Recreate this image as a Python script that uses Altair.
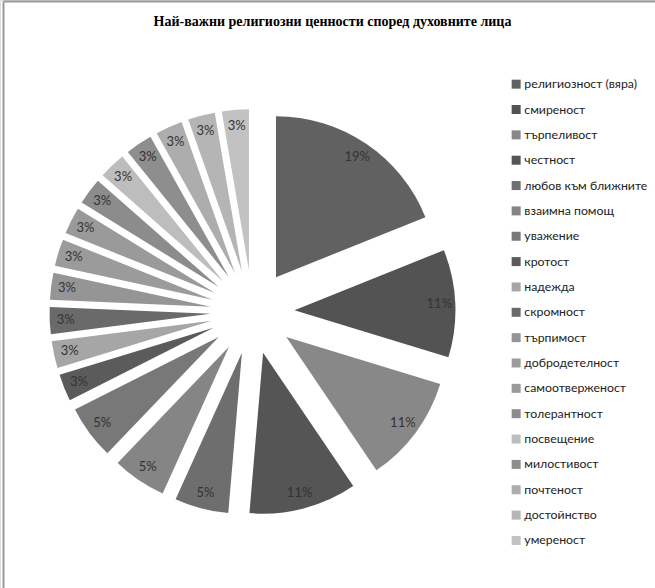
import math
import altair as alt
import pandas as pd

# ---- data -------------------------------------------------------------
names = [
    "религиозност (вяра)", "смиреност", "търпеливост", "честност",
    "любов към ближните", "\u00a0взаимна помощ", "уважение", "кротост",
    "надежда", "скромност", "търпимост", "добродетелност",
    "самоотверженост", "толерантност", "посвещение", "милостивост",
    "почтеност", "достойнство", "умереност",
]
counts = [7, 4, 4, 4, 2, 2, 2, 1, 1, 1, 1, 1, 1, 1, 1, 1, 1, 1, 1]
colors = [
    "#616161", "#535353", "#888888", "#555555", "#6e6e6e", "#858585",
    "#787878", "#5b5b5b", "#a6a6a6", "#6a6a6a", "#959595", "#9b9b9b",
    "#9a9a9a", "#8c8c8c", "#bdbdbd", "#8e8e8e", "#adadad", "#b5b5b5",
    "#c2c2c2",
]
title_text = "Най-важни религиозни ценности според духовните лица"

# ---- layout constants ---------------------------------------------------
W, H = 655, 588
CX, CY = 252.5, 312.0      # pie centre in pixels
R = 161                    # outer radius
EXPLODE = 42               # explosion distance
LABEL_R = EXPLODE + 145    # distance of percentage labels from centre

total = sum(counts)
rows = []
cum = 0
for n, c in zip(names, counts):
    start, end = cum, cum + c
    cum = end
    mid = (start + end) / 2 / total * 2 * math.pi
    rows.append({
        "name": n,
        "count": c,
        "start": start,
        "end": end,
        "share": c / total,
        "ox": EXPLODE * math.sin(mid),
        "oy": EXPLODE * math.cos(mid),
        "lx": LABEL_R * math.sin(mid),
        "ly": LABEL_R * math.cos(mid),
    })
df = pd.DataFrame(rows)

xs = alt.Scale(domain=[-CX, W - CX], range=[0, W], nice=False, zero=False)
ys = alt.Scale(domain=[-(H - CY), CY], range=[H, 0], nice=False, zero=False)

base = alt.Chart(df)

pie = base.mark_arc(outerRadius=R, innerRadius=0, stroke=None).encode(
    theta=alt.Theta("start:Q", scale=alt.Scale(domain=[0, total], range=[0, 2 * math.pi], nice=False, zero=False)),
    theta2="end:Q",
    x=alt.X("ox:Q", scale=xs, axis=None),
    y=alt.Y("oy:Q", scale=ys, axis=None),
    color=alt.Color(
        "name:N",
        sort=names,
        scale=alt.Scale(domain=names, range=colors),
        legend=alt.Legend(
            title=None,
            orient="none",
            legendX=510,
            legendY=78,
            symbolType="square",
            symbolSize=81,
            symbolStrokeWidth=0,
            labelFont="Lato",
            labelFontSize=12.3,
            labelColor="#222222",
            labelOffset=2,
            rowPadding=12.35,
            padding=0,
            labelLimit=200,
        ),
    ),
)

labels = base.mark_text(font="Lato", fontSize=13, color="#333333").encode(
    x=alt.X("lx:Q", scale=xs, axis=None),
    y=alt.Y("ly:Q", scale=ys, axis=None),
    text=alt.Text("share:Q", format=".0%"),
)

one = alt.Chart(pd.DataFrame({"a": [0]}))
frame_left = one.mark_rule(color="#9a9a9a", strokeWidth=2).encode(
    x=alt.value(3.5), y=alt.value(1.5), y2=alt.value(H)
)
frame_top = one.mark_rule(color="#9a9a9a", strokeWidth=2).encode(
    x=alt.value(3.5), x2=alt.value(W), y=alt.value(1.5)
)

chart = (
    alt.layer(pie, labels, frame_left, frame_top)
    .properties(
        width=W,
        height=H,
        autosize=alt.AutoSizeParams(type="none"),
        padding=0,
        title=alt.TitleParams(
            title_text,
            font="Liberation Serif",
            fontSize=14,
            fontWeight="bold",
            color="#000000",
            anchor="middle",
            offset=0,
            dy=29,
            dx=5,
        ),
    )
    .configure_view(stroke=None)
    .configure(background="#ffffff")
)

chart.save("out.html", embed_options={"renderer": "svg", "actions": False})
